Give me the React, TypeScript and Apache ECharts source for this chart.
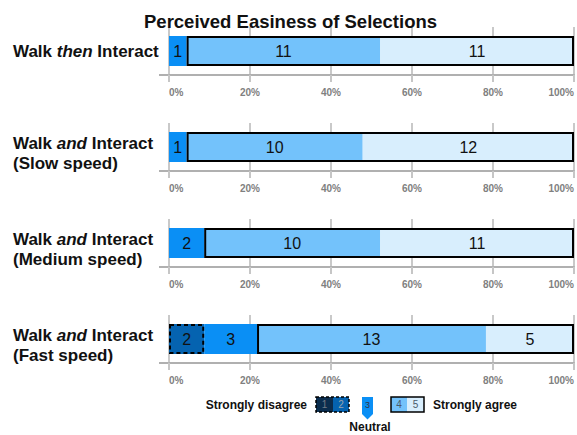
import React, { useEffect, useRef } from "react";
import * as echarts from "echarts";

// ---- data ----
const categories = [
  "Walk then Interact",
  "Walk and Interact (Slow speed)",
  "Walk and Interact (Medium speed)",
  "Walk and Interact (Fast speed)",
];
const stronglyDisagree = [0, 0, 0, 0];
const disagree = [0, 0, 0, 2];
const neutral = [1, 1, 2, 3];
const agree = [11, 10, 10, 13];
const stronglyAgree = [11, 12, 11, 5];
const levelNames = ["Strongly disagree", "Disagree", "Neutral", "Agree", "Strongly agree"];
const levelColors = ["#0b2d4e", "#0563b0", "#0a8ff5", "#73c2fb", "#d8eefd"];
const xTickStep = 20;
const titleText = "Perceived Easiness of Selections";
const legendDigits = ["1", "2", "3", "4", "5"];

// ---- layout ----
const FONT = "Liberation Sans";
const GRID_LEFT = 169;
const rowCenters = [52, 148, 244, 340];
const GRID_ABOVE = 25;
const GRID_BELOW = 23;

function rowLabel(cat: string): string {
  const m = cat.match(/^Walk (then|and) Interact(?: (\(.*\)))?$/);
  if (!m) return `{b|${cat}}`;
  let s = `{b|Walk }{i|${m[1]}}{b| Interact}`;
  if (m[2]) s += `\n{b|${m[2]}}`;
  return s;
}

export default function App() {
  const ref = useRef<HTMLDivElement>(null);
  useEffect(() => {
    document.body.style.margin = "0";
    if (!ref.current) return;
    const chart = echarts.init(ref.current, undefined, { renderer: "svg" });

    const levels = [stronglyDisagree, disagree, neutral, agree, stronglyAgree];
    const grids: any[] = [];
    const xAxes: any[] = [];
    const yAxes: any[] = [];
    const series: any[] = [];
    const graphics: any[] = [];

    categories.forEach((cat, i) => {
      const c = rowCenters[i];
      grids.push({ left: GRID_LEFT, right: 0, top: c - GRID_ABOVE, height: GRID_ABOVE + GRID_BELOW });
      xAxes.push({
        type: "value",
        gridIndex: i,
        min: 0,
        max: 100,
        interval: xTickStep,
        axisLine: { show: true, lineStyle: { color: "#b0b0b0", width: 2 } },
        axisTick: { show: true, length: 7, lineStyle: { color: "#c6c6c6", width: 2 } },
        splitLine: { show: true, lineStyle: { color: "#c9c9c9", width: 2 } },
        axisLabel: {
          formatter: "{value}%",
          fontFamily: FONT,
          fontWeight: "bold",
          fontSize: 10,
          color: "#808080",
          margin: 12,
          alignMinLabel: "left",
          alignMaxLabel: "right",
        },
      });
      const twoLine = cat.includes("(");
      yAxes.push({
        type: "category",
        gridIndex: i,
        data: [cat],
        axisLine: { show: false },
        axisTick: { show: false },
        splitLine: { show: false },
        axisLabel: {
          formatter: (v: string) => rowLabel(v),
          align: "left",
          margin: GRID_LEFT - 13,
          padding: twoLine ? [12, 0, 0, 0] : [0, 0, 0, 0],
          rich: {
            b: { fontFamily: FONT, fontWeight: "bold", fontSize: 17, color: "#111", lineHeight: 20 },
            i: { fontFamily: FONT, fontWeight: "bold", fontStyle: "italic", fontSize: 17, color: "#111", lineHeight: 20 },
          },
        },
      });

      const counts = levels.map((arr) => arr[i]);
      const total = counts.reduce((a, b) => a + b, 0);
      counts.forEach((v, k) => {
        series.push({
          type: "bar",
          name: levelNames[k],
          xAxisIndex: i,
          yAxisIndex: i,
          stack: "seg" + i,
          barWidth: 30,
          barGap: "-100%",
          clip: false,
          silent: true,
          z: 2,
          data: [v > 0 ? { value: (v / total) * 100, count: v } : "-"],
          itemStyle: { color: levelColors[k] },
          label: {
            show: true,
            position: "inside",
            formatter: (p: any) => String(p.data.count),
            fontFamily: FONT,
            fontSize: 16,
            color: "#111",
          },
        });
      });
      const negCount = counts[0] + counts[1];
      const posCount = counts[3] + counts[4];
      const offset = counts[0] + counts[1] + counts[2];
      series.push({
        type: "bar",
        xAxisIndex: i,
        yAxisIndex: i,
        stack: "ol" + i,
        barWidth: 30,
        barGap: "-100%",
        clip: false,
        silent: true,
        z: 3,
        data: [offset > 0 ? (offset / total) * 100 : "-"],
        itemStyle: { color: "rgba(0,0,0,0)" },
      });
      series.push({
        type: "bar",
        xAxisIndex: i,
        yAxisIndex: i,
        stack: "ol" + i,
        barWidth: 30,
        barGap: "-100%",
        clip: false,
        silent: true,
        z: 3,
        data: [posCount > 0 ? (posCount / total) * 100 : "-"],
        itemStyle: { color: "rgba(0,0,0,0)", borderColor: "#000", borderWidth: 2 },
      });
      series.push({
        type: "bar",
        xAxisIndex: i,
        yAxisIndex: i,
        stack: "dl" + i,
        barWidth: 30,
        barGap: "-100%",
        clip: false,
        silent: true,
        z: 3,
        data: [negCount > 0 ? (negCount / total) * 100 : "-"],
        itemStyle: { color: "rgba(0,0,0,0)", borderColor: "#000", borderWidth: 2, borderType: [4, 3] },
      });

      // small extension of the axis line to the left of 0%
      const ay = c + GRID_BELOW;
      graphics.push({
        type: "line",
        silent: true,
        shape: { x1: GRID_LEFT - 10, y1: ay, x2: GRID_LEFT, y2: ay },
        style: { stroke: "#b0b0b0", lineWidth: 2 },
      });
    });

    // ---- legend ----
    const ly = 397;
    const lh = 15;
    const legendText = { fontFamily: FONT, fontWeight: "bold", fontSize: 12, fill: "#111" };
    const digitStyle = { fontFamily: FONT, fontSize: 10, fill: "#707a86" };
    graphics.push(
      { type: "text", x: 307, y: ly + lh / 2, style: { ...legendText, text: levelNames[0], align: "right", verticalAlign: "middle" } },
      { type: "rect", shape: { x: 316, y: ly, width: 17, height: lh }, style: { fill: levelColors[0] } },
      { type: "rect", shape: { x: 333, y: ly, width: 16, height: lh }, style: { fill: levelColors[1] } },
      { type: "rect", shape: { x: 316, y: ly, width: 33, height: lh }, style: { fill: "none", stroke: "#000", lineWidth: 1.5, lineDash: [3, 2] } },
      { type: "text", x: 324.5, y: ly + lh / 2, style: { ...digitStyle, text: legendDigits[0], align: "center", verticalAlign: "middle" } },
      { type: "text", x: 341, y: ly + lh / 2, style: { ...digitStyle, fill: "#9aa4ae", text: legendDigits[1], align: "center", verticalAlign: "middle" } },
      {
        type: "polygon",
        shape: { points: [[362, ly], [373, ly], [373, 414], [367.5, 419.5], [362, 414]] },
        style: { fill: levelColors[2] },
      },
      { type: "text", x: 367.5, y: ly + lh / 2, style: { ...digitStyle, fill: "#334", fontSize: 9, text: legendDigits[2], align: "center", verticalAlign: "middle" } },
      { type: "text", x: 370, y: 427, style: { ...legendText, text: levelNames[2], align: "center", verticalAlign: "middle" } },
      { type: "rect", shape: { x: 391, y: ly, width: 16, height: lh }, style: { fill: levelColors[3] } },
      { type: "rect", shape: { x: 407, y: ly, width: 17, height: lh }, style: { fill: levelColors[4] } },
      { type: "rect", shape: { x: 391, y: ly, width: 33, height: lh }, style: { fill: "none", stroke: "#000", lineWidth: 1.5 } },
      { type: "text", x: 399, y: ly + lh / 2, style: { ...digitStyle, fill: "#4a5a6a", text: legendDigits[3], align: "center", verticalAlign: "middle" } },
      { type: "text", x: 415.5, y: ly + lh / 2, style: { ...digitStyle, fill: "#4a5a6a", text: legendDigits[4], align: "center", verticalAlign: "middle" } },
      { type: "text", x: 433, y: ly + lh / 2, style: { ...legendText, text: levelNames[4], align: "left", verticalAlign: "middle" } }
    );

    chart.setOption({
      animation: false,
      backgroundColor: "#ffffff",
      title: {
        text: titleText,
        left: 139,
        top: 7,
        textStyle: { fontFamily: FONT, fontWeight: "bold", fontSize: 18.5, color: "#111" },
      },
      grid: grids,
      xAxis: xAxes,
      yAxis: yAxes,
      series,
      graphic: graphics,
    });
    return () => chart.dispose();
  }, []);
  return <div ref={ref} style={{ width: 577, height: 435 }} />;
}
